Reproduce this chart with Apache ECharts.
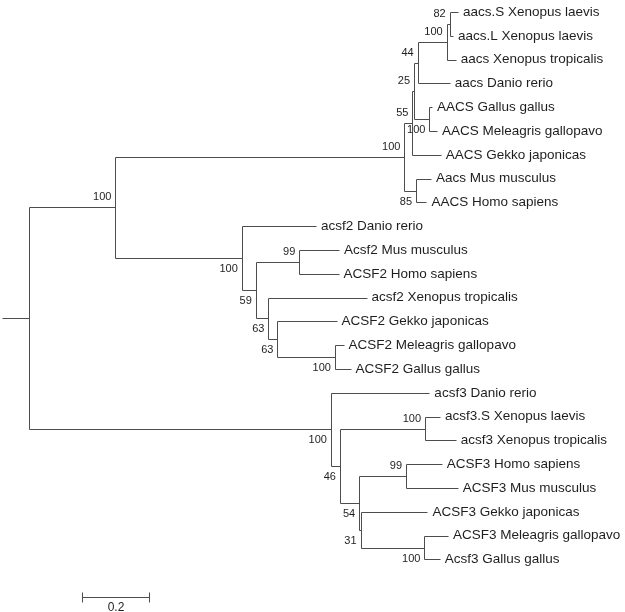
<!DOCTYPE html>
<html>
<head>
<meta charset="utf-8">
<script src="https://cdn.jsdelivr.net/npm/echarts@6/dist/echarts.min.js"></script>
<style>
  html, body { margin: 0; padding: 0; background: #fff; }
  #main { width: 625px; height: 612px; }
</style>
</head>
<body>
<div id="main"></div>
<script>
// leaves, top to bottom
const leafNames = [
  'aacs.S Xenopus laevis', 'aacs.L Xenopus laevis', 'aacs Xenopus tropicalis', 'aacs Danio rerio',
  'AACS Gallus gallus', 'AACS Meleagris gallopavo', 'AACS Gekko japonicas', 'Aacs Mus musculus',
  'AACS Homo sapiens', 'acsf2 Danio rerio', 'Acsf2 Mus musculus', 'ACSF2 Homo sapiens',
  'acsf2 Xenopus tropicalis', 'ACSF2 Gekko japonicas', 'ACSF2 Meleagris gallopavo', 'ACSF2 Gallus gallus',
  'acsf3 Danio rerio', 'acsf3.S Xenopus laevis', 'acsf3 Xenopus tropicalis', 'ACSF3 Homo sapiens',
  'ACSF3 Mus musculus', 'ACSF3 Gekko japonicas', 'ACSF3 Meleagris gallopavo', 'Acsf3 Gallus gallus'
];
// distance from root to each leaf tip
const leafDepth = [
  1.291, 1.276, 1.284, 1.266, 1.213, 1.228, 1.239, 1.210,
  1.196, 0.864, 0.933, 0.932, 1.016, 0.926, 0.947, 0.968,
  1.205, 1.237, 1.284, 1.242, 1.290, 1.199, 1.261, 1.236
];
// internal nodes (ids 24+), children listed before parents, upper child first
const nodeChildren = [
  [0, 1], [24, 2], [25, 3], [4, 5], [26, 27], [28, 6], [7, 8], [29, 30],
  [10, 11], [14, 15], [13, 33], [12, 34], [32, 35], [9, 36], [31, 37],
  [17, 18], [19, 20], [22, 23], [21, 41], [40, 42], [39, 43], [16, 44],
  [38, 45]
];
const nodeDepth = [
  1.266, 1.257, 1.170, 1.205, 1.159, 1.154, 1.165, 1.130,
  0.814, 0.921, 0.748, 0.721, 0.683, 0.641, 0.261,
  1.192, 1.135, 1.190, 0.998, 0.994, 0.936, 0.909,
  0
];
const nodeSupport = [
  82, 100, 44, 100, 25, 55, 85, 100,
  99, 100, 63, 63, 59, 100, 100,
  100, 99, 100, 31, 54, 46, 100,
  null
];
const rootStub = 0.08;
const scaleBarLength = 0.2;

const nLeaf = leafNames.length;
const depth = leafDepth.concat(nodeDepth);
const rowY = leafNames.map((n, i) => i);
nodeChildren.forEach((c, k) => { rowY[nLeaf + k] = (rowY[c[0]] + rowY[c[1]]) / 2; });
const rootId = nLeaf + nodeChildren.length - 1;
const isUpper = [];
nodeChildren.forEach(c => { isUpper[c[0]] = true; isUpper[c[1]] = false; });

const lineColor = '#4d4d4d';
const textColor = '#1e1e1e';
const fontFamily = '"Liberation Sans", Arial, sans-serif';

// snap to pixel centres so 1px lines stay sharp
function px(api, p) {
  const c = api.coord(p);
  return [Math.round(c[0]) + 0.5, Math.round(c[1]) + 0.5];
}

const myChart = echarts.init(document.getElementById('main'));

const option = {
  animation: false,
  grid: { left: 2, width: 592, top: 0.1, height: 606.9 },
  xAxis: { type: 'value', min: -0.08, max: 1.7, show: false },
  yAxis: { type: 'value', inverse: true, min: -0.5, max: 25, show: false },
  series: [
    {
      // branches: one bracket per internal node
      type: 'custom',
      coordinateSystem: 'cartesian2d',
      silent: true,
      data: nodeChildren.map((c, k) => [depth[nLeaf + k], rowY[nLeaf + k]]),
      renderItem: (params, api) => {
        const id = nLeaf + params.dataIndex;
        const c = nodeChildren[params.dataIndex];
        const x = depth[id];
        const pts = [
          [depth[c[0]], rowY[c[0]]], [x, rowY[c[0]]],
          [x, rowY[c[1]]], [depth[c[1]], rowY[c[1]]]
        ].map(p => px(api, p));
        const children = [{
          type: 'polyline',
          shape: { points: pts },
          style: { stroke: lineColor, lineWidth: 1, fill: null }
        }];
        if (id === rootId) {
          children.push({
            type: 'polyline',
            shape: { points: [px(api, [x - rootStub, rowY[id]]), px(api, [x, rowY[id]])] },
            style: { stroke: lineColor, lineWidth: 1, fill: null }
          });
        }
        return { type: 'group', children: children };
      }
    },
    {
      // leaf names
      type: 'custom',
      coordinateSystem: 'cartesian2d',
      silent: true,
      data: leafNames.map((n, i) => [leafDepth[i], i]),
      renderItem: (params, api) => {
        const p = api.coord([leafDepth[params.dataIndex], params.dataIndex]);
        return {
          type: 'text',
          x: p[0] + 5,
          y: p[1],
          style: {
            text: leafNames[params.dataIndex],
            fontSize: 13.5,
            fontFamily: fontFamily,
            fill: textColor,
            align: 'left',
            verticalAlign: 'middle'
          }
        };
      }
    },
    {
      // bootstrap values
      type: 'custom',
      coordinateSystem: 'cartesian2d',
      silent: true,
      data: nodeChildren.map((c, k) => [depth[nLeaf + k], rowY[nLeaf + k]]),
      renderItem: (params, api) => {
        const id = nLeaf + params.dataIndex;
        const s = nodeSupport[params.dataIndex];
        if (s === null) return null;
        const p = api.coord([depth[id], rowY[id]]);
        return {
          type: 'text',
          x: p[0] - 4,
          y: isUpper[id] ? p[1] - 10 : p[1] + 11,
          style: {
            text: String(s),
            fontSize: 11,
            fontFamily: fontFamily,
            fill: textColor,
            align: 'right',
            verticalAlign: 'middle'
          }
        };
      }
    },
    {
      // scale bar
      type: 'custom',
      coordinateSystem: 'cartesian2d',
      silent: true,
      data: [[0.1615, 24.57]],
      renderItem: (params, api) => {
        const a = px(api, [0.1615, 24.57]);
        const b = px(api, [0.1615 + scaleBarLength, 24.57]);
        const st = { stroke: lineColor, lineWidth: 1, fill: null };
        return {
          type: 'group',
          children: [
            { type: 'polyline', shape: { points: [a, b] }, style: st },
            { type: 'polyline', shape: { points: [[a[0], a[1] - 5], [a[0], a[1] + 5]] }, style: st },
            { type: 'polyline', shape: { points: [[b[0], b[1] - 5], [b[0], b[1] + 5]] }, style: st },
            {
              type: 'text',
              x: (a[0] + b[0]) / 2,
              y: a[1] + 10,
              style: {
                text: String(scaleBarLength),
                fontSize: 12,
                fontFamily: fontFamily,
                fill: textColor,
                align: 'center',
                verticalAlign: 'middle'
              }
            }
          ]
        };
      }
    }
  ]
};

myChart.setOption(option);
</script>
</body>
</html>
